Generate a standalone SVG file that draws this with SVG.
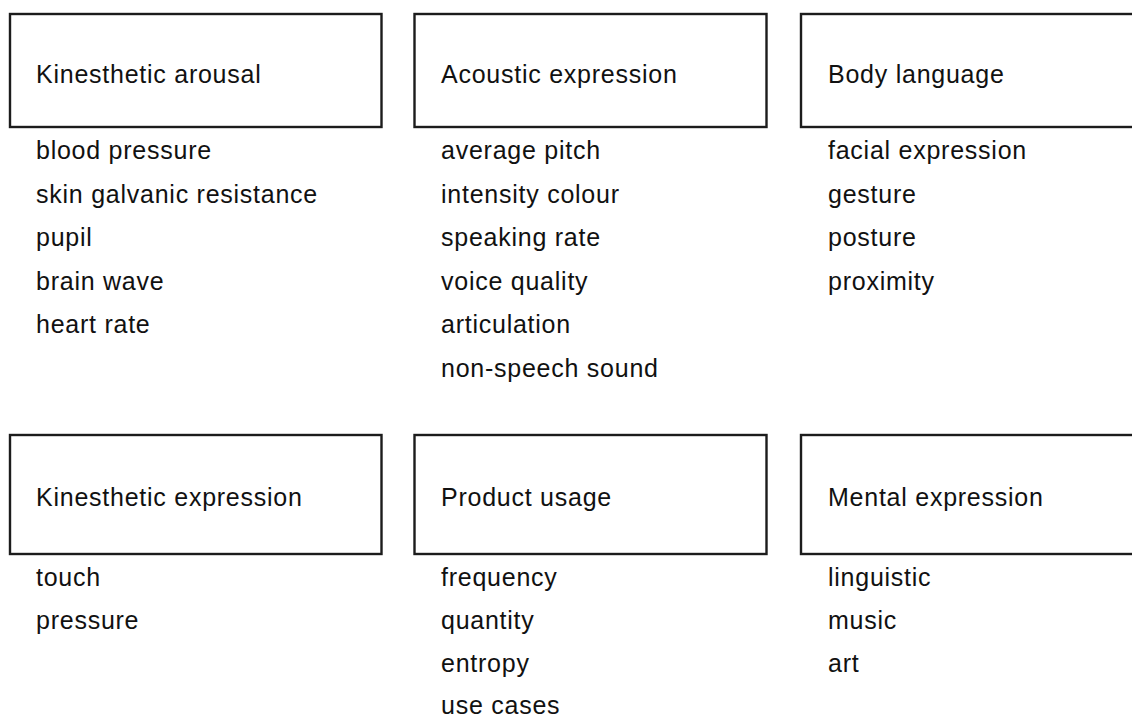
<svg xmlns="http://www.w3.org/2000/svg" width="1132" height="717" viewBox="0 0 1132 717">
  <style>
    .box { fill: #ffffff; stroke: #1c1c1c; stroke-width: 2.4; }
    .t { font-family: "Liberation Sans", Arial, Helvetica, sans-serif; font-size: 25px; letter-spacing: 0.75px; fill: #111111; }
  </style>
  <rect x="0" y="0" width="1132" height="717" fill="#ffffff"/>

  <!-- row 1 -->
  <g id="kinesthetic-arousal">
    <rect class="box" x="10" y="14" width="371.5" height="113"/>
    <text class="t" x="36" y="83">Kinesthetic arousal</text>
    <text class="t" x="36" y="159">blood pressure</text>
    <text class="t" x="36" y="202.5">skin galvanic resistance</text>
    <text class="t" x="36" y="246">pupil</text>
    <text class="t" x="36" y="289.5">brain wave</text>
    <text class="t" x="36" y="333">heart rate</text>
  </g>
  <g id="acoustic-expression">
    <rect class="box" x="414.5" y="14" width="352" height="113"/>
    <text class="t" x="441" y="83">Acoustic expression</text>
    <text class="t" x="441" y="159">average pitch</text>
    <text class="t" x="441" y="202.5">intensity colour</text>
    <text class="t" x="441" y="246">speaking rate</text>
    <text class="t" x="441" y="289.5">voice quality</text>
    <text class="t" x="441" y="333">articulation</text>
    <text class="t" x="441" y="376.5">non-speech sound</text>
  </g>
  <g id="body-language">
    <rect class="box" x="801" y="14" width="345" height="113"/>
    <text class="t" x="828" y="83">Body language</text>
    <text class="t" x="828" y="159">facial expression</text>
    <text class="t" x="828" y="202.5">gesture</text>
    <text class="t" x="828" y="246">posture</text>
    <text class="t" x="828" y="289.5">proximity</text>
  </g>

  <!-- row 2 -->
  <g id="kinesthetic-expression">
    <rect class="box" x="10" y="435" width="371.5" height="119"/>
    <text class="t" x="36" y="506">Kinesthetic expression</text>
    <text class="t" x="36" y="585.5">touch</text>
    <text class="t" x="36" y="629">pressure</text>
  </g>
  <g id="product-usage">
    <rect class="box" x="414.5" y="435" width="352" height="119"/>
    <text class="t" x="441" y="506">Product usage</text>
    <text class="t" x="441" y="585.5">frequency</text>
    <text class="t" x="441" y="629">quantity</text>
    <text class="t" x="441" y="672">entropy</text>
    <text class="t" x="441" y="714">use cases</text>
  </g>
  <g id="mental-expression">
    <rect class="box" x="801" y="435" width="345" height="119"/>
    <text class="t" x="828" y="506">Mental expression</text>
    <text class="t" x="828" y="585.5">linguistic</text>
    <text class="t" x="828" y="629">music</text>
    <text class="t" x="828" y="672">art</text>
  </g>

  <!-- no connectors in this figure -->
  <g id="connectors"/>
</svg>
